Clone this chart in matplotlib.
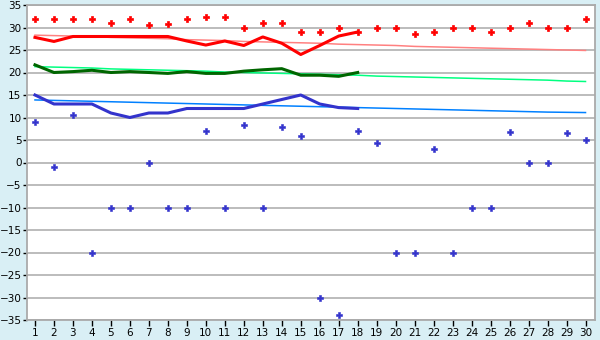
import matplotlib
matplotlib.use("Agg")
import matplotlib.pyplot as plt

days = list(range(1, 31))
day_labels = [str(d) for d in days]

# record highs / lows (points)
rec_max = [32.0, 32.0, 32.0, 31.8, 31.1, 32.0, 30.5, 30.7, 32.0, 32.3,
           32.3, 30.0, 31.1, 30.9, 29.1, 29.1, 30.0, 28.9, 30.0, 29.8,
           28.5, 28.9, 30.0, 30.0, 28.9, 30.0, 30.9, 30.0, 30.0, 32.0]
rec_min = [8.9, -0.9, 10.5, -20.2, -10.2, -10.2, -0.2, -10.2, -10.0, 6.9,
           -10.0, 8.3, -10.2, 8.0, 6.0, -30.2, -33.9, 6.9, 4.3, -20.2,
           -20.2, 2.9, -20.2, -10.0, -10.2, 6.7, 0.0, 0.0, 6.5, 4.9]

# normals (thin lines)
norm_max = [28.3, 28.2, 28.1, 28.0, 27.8, 27.7, 27.6, 27.5, 27.3, 27.2,
            27.1, 26.9, 26.8, 26.7, 26.6, 26.5, 26.3, 26.2, 26.1, 26.0,
            25.8, 25.7, 25.6, 25.5, 25.4, 25.3, 25.2, 25.1, 25.0, 24.9]
norm_mean = [21.3, 21.2, 21.1, 21.0, 20.8, 20.7, 20.6, 20.5, 20.4, 20.3,
             20.1, 20.0, 19.9, 19.8, 19.7, 19.6, 19.5, 19.4, 19.2, 19.1,
             19.0, 18.9, 18.8, 18.7, 18.6, 18.5, 18.4, 18.3, 18.1, 18.0]
norm_min = [13.9, 13.8, 13.7, 13.6, 13.5, 13.4, 13.3, 13.2, 13.1, 13.0,
            12.9, 12.8, 12.7, 12.6, 12.5, 12.4, 12.3, 12.2, 12.1, 12.0,
            11.9, 11.8, 11.7, 11.6, 11.5, 11.4, 11.3, 11.2, 11.15, 11.1]

# observed this month (thick lines, days 1-18)
obs_days = list(range(1, 19))
obs_max = [27.8, 26.9, 28.0, 28.0, 28.0, 28.0, 28.0, 28.0, 27.0, 26.1,
           27.0, 26.0, 27.9, 26.5, 24.0, 26.0, 28.1, 29.0]
obs_mean = [21.7, 20.0, 20.2, 20.5, 20.0, 20.2, 20.0, 19.8, 20.2, 19.8,
            19.8, 20.3, 20.6, 20.85, 19.4, 19.4, 19.15, 20.0]
obs_min = [15.0, 13.0, 13.0, 13.0, 11.0, 10.0, 11.0, 11.0, 12.0, 12.0,
           12.0, 12.0, 13.0, 14.0, 15.0, 13.0, 12.2, 12.0]

yticks = list(range(-35, 36, 5))

bg = "#d9eff5"
fig = plt.figure(figsize=(6, 3.4), dpi=100, facecolor=bg)
ax = fig.add_axes([27/600, 20/340, 568/600, 315/340])
ax.set_facecolor("white")

ax.plot(days, norm_max, color="#ff8080", lw=1.1, zorder=2)
ax.plot(days, norm_mean, color="#00ff80", lw=1.1, zorder=2)
ax.plot(days, norm_min, color="#0080ff", lw=1.1, zorder=2)

ax.plot(obs_days, obs_max, color="#ff0000", lw=2.2, zorder=3)
ax.plot(obs_days, obs_mean, color="#006600", lw=2.2, zorder=3)
ax.plot(obs_days, obs_min, color="#3333cc", lw=2.2, zorder=3)

ax.plot(days, rec_max, linestyle="none", marker="P", markersize=5.0,
        color="#ff0000", markeredgecolor="#ff0000", markeredgewidth=0.5, zorder=4)
ax.plot(days, rec_min, linestyle="none", marker="P", markersize=3.8,
        color="#3333cc", markeredgecolor="#3333cc", markeredgewidth=0.4, zorder=4)

ax.set_xlim(0.58, 30.5)
ax.set_ylim(-35, 35)
ax.set_xticks(days)
ax.set_xticklabels(day_labels)
ax.set_yticks(yticks)
ax.set_yticklabels([str(v).replace("-", "\u2212") for v in yticks])
ax.grid(axis="y", color="#aaaaaa", lw=1.1)
ax.set_axisbelow(True)
for s in ax.spines.values():
    s.set_color("#aaaaaa")
    s.set_linewidth(1.3)
ax.tick_params(axis="x", length=4, width=1, color="black", labelsize=7.5, pad=2)
ax.tick_params(axis="y", length=3, width=1, color="black", labelsize=7.5, pad=1)

fig.savefig("out.png", dpi=100, facecolor=bg)
